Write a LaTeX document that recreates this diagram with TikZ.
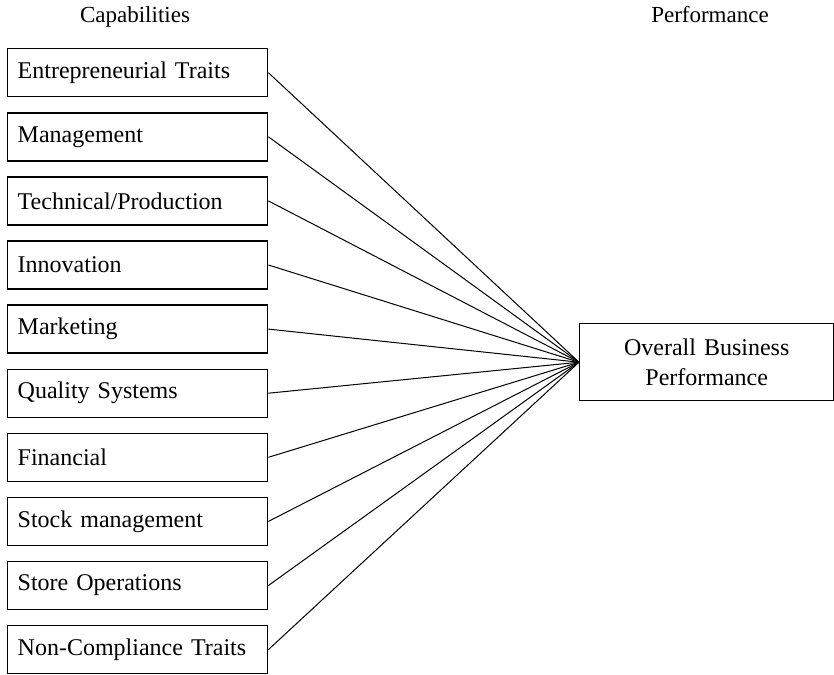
\documentclass[tikz,border=0pt]{standalone}
\usepackage{fontspec}
\setmainfont{Liberation Serif}
\begin{document}
\begin{tikzpicture}[x=1pt,y=-1pt,
  capbox/.style={draw,line width=1.4pt,minimum width=260pt,minimum height=48pt,
    text width=240pt,align=left,inner sep=0pt,anchor=north west,
    font=\fontsize{24}{28}\selectfont},
  perfbox/.style={draw,line width=1.4pt,minimum width=254pt,minimum height=77pt,
    text width=240pt,align=center,inner sep=0pt,anchor=north west,
    font=\fontsize{24}{30}\selectfont},
  title/.style={font=\fontsize{23}{27}\selectfont,inner sep=0pt,anchor=base},
  link/.style={line width=1pt}]
\useasboundingbox (0,0) rectangle (834,674);
\node[title] (capt) at (135,23) {Capabilities};
\node[title] (perft) at (710,23) {Performance};
\foreach \t [count=\i from 0] in {Entrepreneurial Traits,Management,Technical/Production,Innovation,Marketing,Quality Systems,Financial,Stock management,Store Operations,Non-Compliance Traits}{
  \node[capbox] (c\i) at (7,{48+64.1*\i}) {\t};
}
\node[perfbox] (perf) at (579,323) {Overall Business\\Performance};
\foreach \i in {0,...,9}{
  \draw[link] (c\i.east) -- (perf.west);
}
\end{tikzpicture}
\end{document}
